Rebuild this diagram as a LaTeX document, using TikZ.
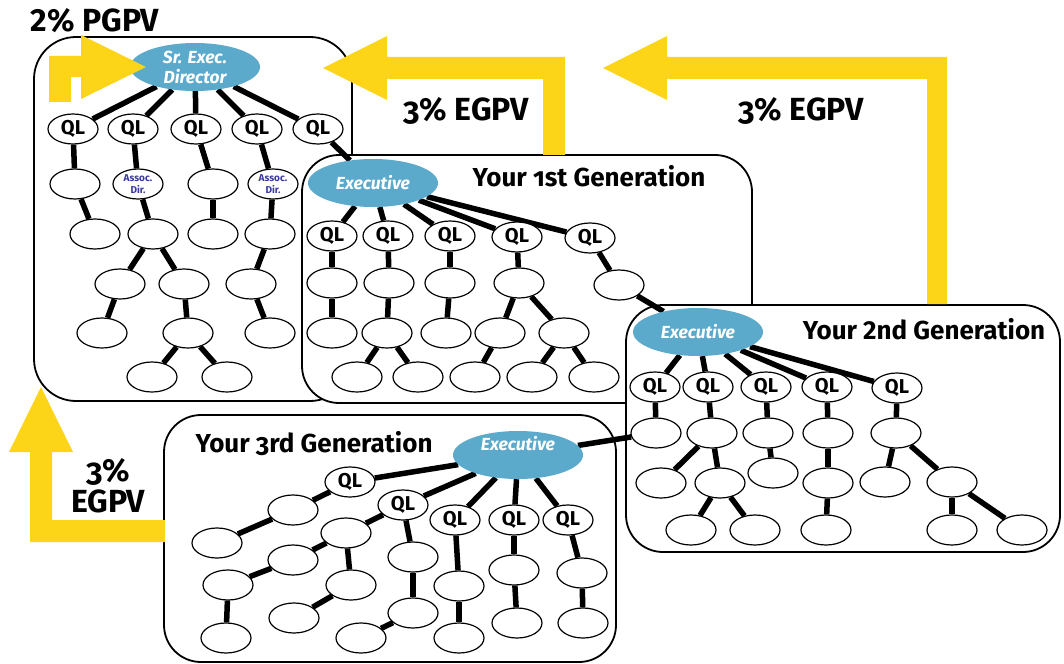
\documentclass[tikz,border=0pt]{standalone}
\usepackage{fontspec}
\setmainfont{Fira Sans}
\newfontfamily\oldfig{Fira Sans}[Numbers=OldStyle]
\usetikzlibrary{shapes.geometric}
\definecolor{execblue}{RGB}{91,169,203}
\definecolor{gpvyellow}{RGB}{252,212,24}
\definecolor{assocblue}{RGB}{58,58,158}
\pgfdeclarelayer{panels}
\pgfdeclarelayer{links}
\pgfdeclarelayer{overlay}
\pgfsetlayers{panels,links,main,overlay}
\tikzset{
  member/.style={ellipse, draw, fill=white, line width=1.2pt,
    minimum width=50pt, minimum height=30pt, inner sep=0pt},
  ql/.style={member, font=\bfseries\fontsize{20}{20}\selectfont},
  assoc/.style={member, text=assocblue, align=center,
    font=\bfseries\fontsize{10}{12.5}\selectfont},
  lead/.style={ellipse, fill=execblue, minimum width=130pt, minimum height=48pt,
    inner sep=0pt, text=white, align=center,
    font=\bfseries\itshape\fontsize{17.5}{20}\selectfont},
  leadtext/.style={inner sep=0pt, text=white,
    font=\bfseries\itshape\fontsize{17.5}{20}\selectfont},
  link/.style={line width=5.5pt},
  panel/.style={draw, fill=white, line width=1.8pt},
  gen/.style={inner sep=0pt, font=\bfseries\fontsize{26}{26}\selectfont},
  gpv/.style={inner sep=0pt, align=center, font=\bfseries\fontsize{32}{31}\selectfont},
  gpvarrow/.style={fill=gpvyellow},
}
\begin{document}
\begin{tikzpicture}[x=1pt, y=-1pt]
\useasboundingbox (0,0) rectangle (1064,663);

% generation panels
\begin{pgfonlayer}{panels}
  \draw[panel, rounded corners=42pt] (34,37) rectangle (352,401);
  \draw[panel, rounded corners=37pt] (302,155) rectangle (752,403);
  \draw[panel, rounded corners=37pt] (626,305) rectangle (1060,552);
  \draw[panel, rounded corners=37pt] (164,415) rectangle (616,662);
\end{pgfonlayer}

% ---- senior executive director's own organisation
\node[lead] (sed) at (195,67) {Sr. Exec.\\Director};
\node[ql] (q11) at (73,129) {QL};
\node[ql] (q12) at (133,129) {QL};
\node[ql] (q13) at (196,129) {QL};
\node[ql] (q14) at (257,129) {QL};
\node[ql] (q15) at (318,129) {QL};
\node[member] (a11) at (75,184) {};
\node[assoc] (ad1) at (138,184) {Assoc.\\Dir.};
\node[member] (a13) at (213,184) {};
\node[assoc] (ad2) at (273,184) {Assoc.\\Dir.};
\node[member] (b11) at (95,234) {};
\node[member] (b12) at (153,234) {};
\node[member] (b13) at (213,234) {};
\node[member] (b14) at (270,234) {};
\node[member] (c11) at (120,284) {};
\node[member] (c12) at (184,284) {};
\node[member] (c13) at (251,284) {};
\node[member] (d11) at (102,333) {};
\node[member] (d12) at (188,333) {};
\node[member] (d13) at (270,333) {};
\node[member] (e11) at (152,377) {};
\node[member] (e12) at (227,377) {};

% ---- first generation
\node[lead] (x1) at (373,183) {Executive};
\node[gen] (g1) at (589,176) {Your {\oldfig 1}st Generation};
\node[ql] (q21) at (332,236) {QL};
\node[ql] (q22) at (388,236) {QL};
\node[ql] (q23) at (450,236) {QL};
\node[ql] (q24) at (517,237) {QL};
\node[ql] (q25) at (590,238) {QL};
\node[member] (a21) at (332,283) {};
\node[member] (a22) at (389,283) {};
\node[member] (a23) at (450,283) {};
\node[member] (a24) at (519,283) {};
\node[member] (a25) at (619,285) {};
\node[member] (b21) at (332,333) {};
\node[member] (b22) at (387,333) {};
\node[member] (b23) at (446,333) {};
\node[member] (b24) at (500,333) {};
\node[member] (b25) at (564,333) {};
\node[member] (c21) at (357,377) {};
\node[member] (c22) at (418,377) {};
\node[member] (c23) at (475,377) {};
\node[member] (c24) at (532,377) {};
\node[member] (c25) at (594,377) {};

% ---- second generation
\node[lead] (x2) at (698,332) {Executive};
\node[gen] (g2) at (924,329) {Your 2nd Generation};
\node[ql] (q31) at (655,387) {QL};
\node[ql] (q32) at (708,387) {QL};
\node[ql] (q33) at (766,387) {QL};
\node[ql] (q34) at (827,387) {QL};
\node[ql] (q35) at (897,388) {QL};
\node[member] (a31) at (656,433) {};
\node[member] (a32) at (712,433) {};
\node[member] (a33) at (768,433) {};
\node[member] (a34) at (828,433) {};
\node[member] (a35) at (896,433) {};
\node[member] (b31) at (661,483) {};
\node[member] (b32) at (720,483) {};
\node[member] (b33) at (773,473) {};
\node[member] (b34) at (828,483) {};
\node[member] (b35) at (885,482) {};
\node[member] (b36) at (952,482) {};
\node[member] (c31) at (691,530) {};
\node[member] (c32) at (755,530) {};
\node[member] (c33) at (826,530) {};
\node[member] (c34) at (952,530) {};
\node[member] (c35) at (1022,530) {};

% ---- third generation
\node[lead] (x3) at (518,455) {};
\node[leadtext] (x3t) at (518,444) {Executive};
\node[gen] (g3) at (314,444) {Your {\oldfig 3}rd Generation};
\node[ql] (q41) at (350,482) {QL};
\node[ql] (q42) at (403,505) {QL};
\node[ql] (q43) at (455,520) {QL};
\node[ql] (q44) at (514,520) {QL};
\node[ql] (q45) at (568,520) {QL};
\node[member] (a41) at (293,510) {};
\node[member] (a42) at (217,543) {};
\node[member] (b41) at (346,533) {};
\node[member] (b42) at (293,560) {};
\node[member] (b43) at (228,585) {};
\node[member] (b44) at (226,638) {};
\node[member] (b45) at (351,585) {};
\node[member] (b46) at (294,618) {};
\node[member] (c41) at (413,557) {};
\node[member] (c42) at (413,613) {};
\node[member] (c43) at (361,638) {};
\node[member] (d41) at (459,586) {};
\node[member] (d42) at (459,638) {};
\node[member] (e41) at (514,570) {};
\node[member] (e42) at (517,623) {};
\node[member] (f41) at (582,573) {};
\node[member] (f42) at (583,623) {};

% sponsorship lines
\begin{pgfonlayer}{links}
  \foreach \a/\b in {sed/q11, sed/q12, sed/q13, sed/q14, sed/q15,
      q11/a11, q12/ad1, q13/a13, q14/ad2,
      a11/b11, ad1/b12, a13/b13, ad2/b14,
      b12/c11, b12/c12, b14/c13, c11/d11, c12/d12, c13/d13,
      d12/e11, d12/e12, q15/x1,
      x1/q21, x1/q22, x1/q23, x1/q24, x1/q25,
      q21/a21, q22/a22, q23/a23, q24/a24, q25/a25,
      a21/b21, a22/b22, a23/b23, a24/b24, a24/b25,
      b22/c21, b22/c22, b24/c23, b25/c24, b25/c25, a25/x2,
      x2/q31, x2/q32, x2/q33, x2/q34, x2/q35,
      q31/a31, q32/a32, q33/a33, q34/a34, q35/a35,
      a32/b31, a32/b32, a33/b33, a34/b34, a35/b35, a35/b36,
      b32/c31, b32/c32, b34/c33, b36/c34, b36/c35, x3/a31,
      x3/q41, x3/q42, x3/q43, x3/q44, x3/q45,
      q41/a41, a41/a42,
      q42/b41, b41/b42, b42/b43, b43/b44, b41/b45, b45/b46,
      q42/c41, c41/c42, c42/c43,
      q43/d41, d41/d42, q44/e41, e41/e42, q45/f41, f41/f42}
    \draw[link] (\a) -- (\b);
\end{pgfonlayer}

% volume arrows and their labels
\begin{pgfonlayer}{overlay}
  \fill[gpvarrow] (947,304) -- (947,57) -- (667,57) -- (667,36) -- (603,68)
    -- (667,100) -- (667,79) -- (927,79) -- (927,304) -- cycle;
  \fill[gpvarrow] (565,155) -- (565,57) -- (387,57) -- (387,36) -- (323,68)
    -- (387,100) -- (387,79) -- (543,79) -- (543,155) -- cycle;
  \fill[gpvarrow] (165,520) -- (52,520) -- (52,452) -- (73,452) -- (41,387)
    -- (9,452) -- (30,452) -- (30,542) -- (165,542) -- cycle;
  \fill[gpvarrow] (49,102) -- (49,56) -- (81,56) -- (81,35) -- (146,67)
    -- (81,99) -- (81,77) -- (71,77) -- (71,102) -- cycle;
\end{pgfonlayer}
\node[gpv] (pgpv) at (95,21) {2\% PGPV};
\node[gpv] (egpv1) at (466,111) {{\oldfig 3}\% EGPV};
\node[gpv] (egpv2) at (801,111) {{\oldfig 3}\% EGPV};
\node[gpv] (egpv3) at (108,486) {{\oldfig 3}\%\\EGPV};
\end{tikzpicture}
\end{document}
